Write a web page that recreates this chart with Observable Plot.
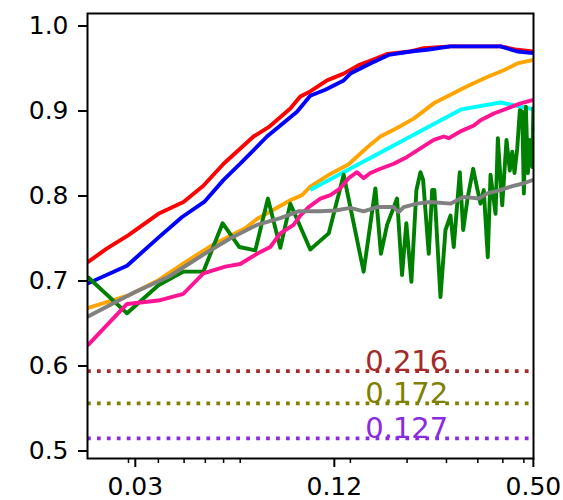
<!DOCTYPE html>
<html>
<head>
<meta charset="utf-8">
<script src="https://cdn.jsdelivr.net/npm/d3@7"></script>
<script src="https://cdn.jsdelivr.net/npm/@observablehq/plot@0.6"></script>
<style>
  html, body { margin: 0; padding: 0; background: #fff; }
</style>
</head>
<body>
<div id="chart"></div>
<script>
// ---- data ----
const redX = [0.0224, 0.0256, 0.0298, 0.0367, 0.0437, 0.0502, 0.0578, 0.0712, 0.0791, 0.0920, 0.0986, 0.1057, 0.1188, 0.1334, 0.1481, 0.1626, 0.1805, 0.2124, 0.2330, 0.2807, 0.3303, 0.3978, 0.4469, 0.5];
const redY = [0.722, 0.738, 0.754, 0.779, 0.793, 0.812, 0.838, 0.870, 0.881, 0.903, 0.917, 0.923, 0.936, 0.944, 0.954, 0.960, 0.967, 0.970, 0.974, 0.976, 0.976, 0.976, 0.972, 0.970];

const blueX = [0.0224, 0.0295, 0.0367, 0.0432, 0.0505, 0.0578, 0.0649, 0.0782, 0.0964, 0.1057, 0.1174, 0.1334, 0.1398, 0.1607, 0.1825, 0.2124, 0.2385, 0.2807, 0.3978, 0.4469, 0.5];
const blueY = [0.697, 0.718, 0.751, 0.775, 0.793, 0.819, 0.838, 0.870, 0.899, 0.918, 0.925, 0.936, 0.944, 0.956, 0.966, 0.970, 0.972, 0.976, 0.976, 0.970, 0.968];

const orangeX = [0.0224, 0.0298, 0.0367, 0.0442, 0.0533, 0.0672, 0.0729, 0.0920, 0.0998, 0.1057, 0.1216, 0.1378, 0.1570, 0.1723, 0.1935, 0.2173, 0.2498, 0.2807, 0.3154, 0.3625, 0.4070, 0.4469, 0.5];
const orangeY = [0.668, 0.683, 0.701, 0.722, 0.742, 0.762, 0.773, 0.795, 0.801, 0.811, 0.826, 0.837, 0.857, 0.870, 0.880, 0.891, 0.909, 0.919, 0.929, 0.940, 0.948, 0.956, 0.960];

const cyanX = [0.1057, 0.3031, 0.3978, 0.5];
const cyanY = [0.807, 0.902, 0.910, 0.902];

const pinkX = [0.0224, 0.0295, 0.0367, 0.0437, 0.0502, 0.0585, 0.0649, 0.0729, 0.0800, 0.0858, 0.0941, 0.0986, 0.1045, 0.1134, 0.1216, 0.1303, 0.1381, 0.1464, 0.1533, 0.1607, 0.1723, 0.1890, 0.2075, 0.2277, 0.2498, 0.2679, 0.2773, 0.3010, 0.3303, 0.3460, 0.3796, 0.4168, 0.4573, 0.5];
const pinkY = [0.624, 0.673, 0.677, 0.685, 0.709, 0.717, 0.720, 0.732, 0.740, 0.756, 0.766, 0.777, 0.787, 0.797, 0.801, 0.809, 0.821, 0.828, 0.821, 0.827, 0.832, 0.838, 0.846, 0.856, 0.866, 0.870, 0.868, 0.876, 0.883, 0.889, 0.897, 0.903, 0.909, 0.913];

const greenX = [0.0224, 0.0295, 0.0367, 0.0437, 0.0502, 0.0574, 0.0645, 0.0721, 0.0787, 0.0858, 0.0920, 0.1057, 0.1202, 0.1334, 0.1533, 0.1664, 0.1729, 0.1805, 0.1935, 0.2003, 0.2064, 0.2138, 0.2214, 0.2277, 0.2320, 0.2413, 0.2471, 0.2510, 0.2618, 0.2711, 0.2807, 0.2872, 0.2995, 0.3067, 0.3167, 0.3288, 0.3381, 0.3460, 0.3540, 0.3640, 0.3710, 0.3842, 0.3904, 0.4025, 0.4147, 0.4243, 0.4315, 0.4385, 0.4469, 0.4551, 0.4627, 0.4680, 0.4746, 0.4812, 0.4880, 0.4962, 0.5];
const greenY = [0.705, 0.662, 0.695, 0.711, 0.711, 0.768, 0.740, 0.736, 0.797, 0.739, 0.791, 0.737, 0.756, 0.825, 0.711, 0.809, 0.732, 0.766, 0.797, 0.707, 0.768, 0.699, 0.807, 0.828, 0.819, 0.732, 0.807, 0.807, 0.681, 0.760, 0.777, 0.740, 0.828, 0.760, 0.799, 0.832, 0.809, 0.791, 0.807, 0.728, 0.825, 0.779, 0.868, 0.789, 0.866, 0.830, 0.852, 0.827, 0.856, 0.901, 0.899, 0.803, 0.905, 0.827, 0.866, 0.834, 0.905];

const grayX = [0.0224, 0.0312, 0.0394, 0.0497, 0.0605, 0.0729, 0.0858, 0.0973, 0.1134, 0.1259, 0.1398, 0.1533, 0.1684, 0.1890, 0.1957, 0.2026, 0.2225, 0.2442, 0.2807, 0.3080, 0.3419, 0.3625, 0.3978, 0.4265, 0.4680, 0.5];
const grayY = [0.658, 0.687, 0.705, 0.730, 0.750, 0.766, 0.774, 0.782, 0.782, 0.783, 0.786, 0.782, 0.787, 0.787, 0.781, 0.787, 0.791, 0.793, 0.791, 0.799, 0.797, 0.803, 0.807, 0.811, 0.815, 0.819];

// reference levels and their labels
const refValues = [0.594, 0.556, 0.515];
const refLabels = ["0.216", "0.172", "0.127"];
const refColors = ["#a52a2a", "#808000", "#8a2be2"];
const refLabelX = 0.207;

// axes
const xMajorTicks = [0.03125, 0.125, 0.5];
const xMajorLabels = ["0.03", "0.12", "0.50"];
const xMinorTicks = [0.0298, 0.0367, 0.0439, 0.0509, 0.0578, 0.0649, 0.1398, 0.2075, 0.2730, 0.3396, 0.4043, 0.4680];
const yTicks = [0.5, 0.6, 0.7, 0.8, 0.9, 1.0];
const yTickLabels = ["0.5", "0.6", "0.7", "0.8", "0.9", "1.0"];

// ---- build ----
const zip = (xs, ys) => xs.map((x, i) => ({x, y: ys[i]}));
const series = [
  {data: zip(redX, redY), color: "#ff0000"},
  {data: zip(blueX, blueY), color: "#0000ff"},
  {data: zip(orangeX, orangeY), color: "#ffa500"},
  {data: zip(cyanX, cyanY), color: "#00ffff"},
  {data: zip(greenX, greenY), color: "#008000"},
  {data: zip(pinkX, pinkY), color: "#ff1493"},
  {data: zip(grayX, grayY), color: "#808080"}
];
const xLabelMap = new Map(xMajorTicks.map((t, i) => [t, xMajorLabels[i]]));
const yLabelMap = new Map(yTicks.map((t, i) => [t, yTickLabels[i]]));

const marks = [];
refValues.forEach((v, i) => {
  marks.push(Plot.ruleY([v], {stroke: refColors[i], strokeWidth: 3.75, strokeDasharray: "3.75,6.2"}));
});
series.forEach(s => {
  marks.push(Plot.line(s.data, {x: "x", y: "y", stroke: s.color, strokeWidth: 3.9, strokeLinejoin: "round", strokeLinecap: "butt", clip: true}));
});
refValues.forEach((v, i) => {
  marks.push(Plot.text([{x: refLabelX, y: v, t: refLabels[i]}], {x: "x", y: "y", text: "t", fill: refColors[i], fontSize: 29, textAnchor: "middle", lineAnchor: "bottom"}));
});
// minor ticks (no labels)
marks.push(Plot.axisX({ticks: xMinorTicks, tickSize: 5, strokeWidth: 1.5, tickFormat: () => "", label: null}));
// major ticks and labels
marks.push(Plot.axisX({ticks: xMajorTicks, tickSize: 9, tickPadding: 10, strokeWidth: 2, tickFormat: d => xLabelMap.get(d) ?? "", label: null, fontSize: 25}));
marks.push(Plot.axisY({ticks: yTicks, tickSize: 9, tickPadding: 10, strokeWidth: 2, tickFormat: d => yLabelMap.get(d) ?? "", label: null, fontSize: 25}));
marks.push(Plot.frame({stroke: "#000", strokeWidth: 2}));

const chart = Plot.plot({
  width: 563,
  height: 500,
  marginLeft: 87,
  marginRight: 30,
  marginTop: 13,
  marginBottom: 42,
  style: {fontFamily: "'DejaVu Sans', sans-serif", fontSize: "25px", background: "#fff", color: "#000", overflow: "visible"},
  x: {type: "log", domain: [0.0224, 0.5005], label: null},
  y: {domain: [0.4912, 1.0147], label: null},
  marks
});
document.getElementById("chart").appendChild(chart);
</script>
</body>
</html>
